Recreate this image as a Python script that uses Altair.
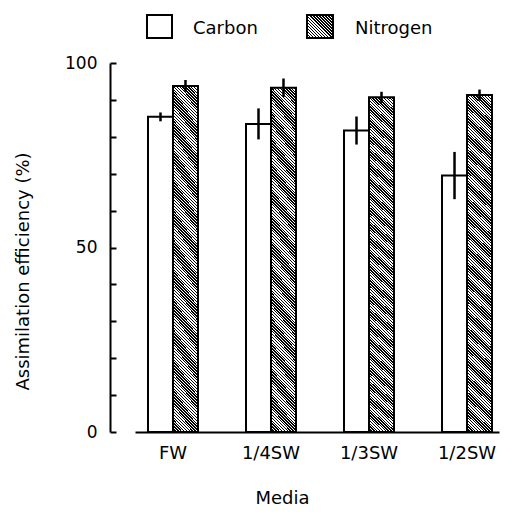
import altair as alt
import pandas as pd

# ---- data ----
media = ["FW", "1/4SW", "1/3SW", "1/2SW"]
elements = ["Carbon", "Nitrogen"]
carbon = [85.4, 83.5, 81.7, 69.5]
carbon_err = [1.2, 4.2, 3.8, 6.4]
nitrogen = [93.8, 93.3, 90.7, 91.3]
nitrogen_err = [1.6, 2.5, 1.5, 1.5]
y_ticks = [0, 10, 20, 30, 40, 50, 60, 70, 80, 90, 100]
y_labels = [0, 50, 100]

rows = []
for i, m in enumerate(media):
    rows.append({"media": m, "element": "Carbon", "value": carbon[i], "err": carbon_err[i]})
    rows.append({"media": m, "element": "Nitrogen", "value": nitrogen[i], "err": nitrogen_err[i]})
df = pd.DataFrame(rows)


def hatch(w, h, n_stripes, duty=0.5):
    """Diagonal (\\\\) hatch simulated with a hard-stop linear gradient."""
    n = w + h
    t = n / (w * w + h * h)
    x2 = t * w
    y2 = 1 - t * h
    stops = []
    for k in range(n_stripes):
        a = k / n_stripes
        b = (k + duty) / n_stripes
        c = (k + 1) / n_stripes
        stops += [
            {"offset": round(a, 6), "color": "black"},
            {"offset": round(b, 6), "color": "black"},
            {"offset": round(b, 6), "color": "white"},
            {"offset": round(c, 6), "color": "white"},
        ]
    return {"gradient": "linear", "x1": 0, "y1": 1, "x2": round(x2, 5), "y2": round(y2, 5), "stops": stops}


bar_hatch = hatch(25, 340, 128)
box_hatch = hatch(26, 23, 16)

FONT = "DejaVu Sans"
W, H = 364, 369

x_enc = alt.X(
    "media:N",
    sort=media,
    scale=alt.Scale(paddingInner=0.49, paddingOuter=0.102, align=0.65),
    axis=alt.Axis(
        title="Media",
        labelAngle=0,
        ticks=False,
        domain=True,
        domainColor="black",
        domainWidth=2,
        labelFontSize=18,
        labelPadding=12,
        labelColor="black",
        labelFont=FONT,
        titleFont=FONT,
        titleFontSize=18,
        titleFontWeight="normal",
        titleColor="black",
        titleX=147,
        titleY=71,
        titleBaseline="alphabetic",
    ),
)
xoff = alt.XOffset("element:N", sort=elements, scale=alt.Scale(paddingInner=0, paddingOuter=0))

base = alt.Chart(df)

bars = base.mark_bar(stroke="black", strokeWidth=2).encode(
    x=x_enc,
    xOffset=xoff,
    y=alt.Y(
        "value:Q",
        scale=alt.Scale(domain=[0, 100], nice=False),
        axis=alt.Axis(
            title="Assimilation efficiency (%)",
            orient="left",
            offset=25,
            values=y_labels,
            ticks=False,
            domain=False,
            grid=False,
            labelFontSize=17,
            labelPadding=13,
            labelColor="black",
            labelFont=FONT,
            titleFont=FONT,
            titleFontSize=18,
            titleFontWeight="normal",
            titleColor="black",
            titleX=-82,
            titleY=208,
            titleAngle=270,
            titleAlign="center",
            titleBaseline="alphabetic",
        ),
    ),
    fill=alt.condition(alt.datum.element == "Nitrogen", alt.value(bar_hatch), alt.value("white")),
)

errs = base.transform_calculate(
    lo="datum.value - datum.err", hi="datum.value + datum.err"
).mark_rule(color="black", strokeWidth=2.5).encode(
    x=x_enc,
    xOffset=xoff,
    y=alt.Y(
        "lo:Q",
        axis=alt.Axis(
            orient="right",
            offset=-(W + 25),
            values=y_ticks,
            labels=False,
            title=None,
            ticks=True,
            tickSize=6,
            tickWidth=2,
            tickColor="black",
            domain=True,
            domainColor="black",
            domainWidth=2,
            grid=False,
        ),
    ),
    y2="hi:Q",
)

one = pd.DataFrame({"k": [0]})
leg_c_box = alt.Chart(one).mark_rect(fill="white", stroke="black", strokeWidth=2).encode(
    x=alt.value(12), x2=alt.value(37), y=alt.value(-48), y2=alt.value(-25)
)
leg_n_box = alt.Chart(one).mark_rect(fill=box_hatch, stroke="black", strokeWidth=2).encode(
    x=alt.value(172), x2=alt.value(198), y=alt.value(-48), y2=alt.value(-25)
)
leg_c_txt = alt.Chart(one).mark_text(
    align="left", baseline="alphabetic", fontSize=18, font=FONT, color="black"
).encode(x=alt.value(58), y=alt.value(-29), text=alt.value(elements[0]))
leg_n_txt = alt.Chart(one).mark_text(
    align="left", baseline="alphabetic", fontSize=18, font=FONT, color="black"
).encode(x=alt.value(220), y=alt.value(-29), text=alt.value(elements[1]))

chart = (
    alt.layer(bars, errs, leg_c_box, leg_n_box, leg_c_txt, leg_n_txt)
    .resolve_axis(y="independent")
    .properties(
        width=W,
        height=H,
        autosize=alt.AutoSizeParams(type="none"),
        padding={"left": 127, "top": 55, "right": 2, "bottom": 74},
        background="white",
    )
    .configure_view(stroke=None)
    .configure_axis(grid=False)
)

chart.save("out.html", embed_options={"renderer": "svg", "actions": False})
